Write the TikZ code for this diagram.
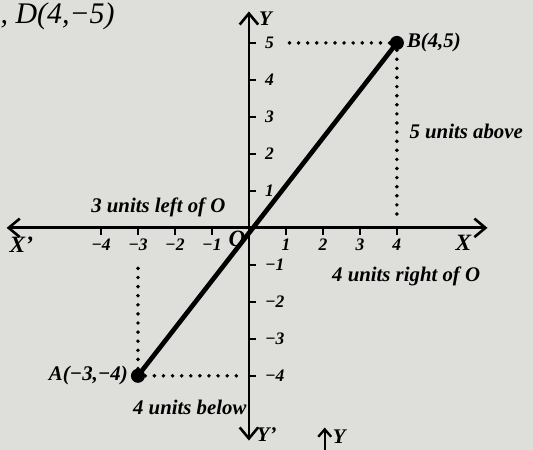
\documentclass[tikz,border=0pt]{standalone}
\usepackage{fontspec}
\setmainfont{Liberation Serif}
\usetikzlibrary{arrows.meta, positioning}
\definecolor{paper}{RGB}{222,222,218}
\tikzset{
  axis/.style={{Straight Barb[length=3mm, width=5mm, line width=2pt]}-{Straight Barb[length=3mm, width=5mm, line width=2pt]}, line width=2.2pt},
  guide/.style={dash pattern=on 0pt off 7pt, line cap=round, line width=3pt},
  seg/.style={line width=3.6pt},
  lbl/.style={font=\bfseries\itshape\fontsize{16}{18}\selectfont, inner sep=1pt},
  num/.style={font=\bfseries\itshape\fontsize{13.5}{15}\selectfont, inner sep=1pt},
  pt/.style={circle, fill=black, inner sep=0pt, minimum size=3.8mm},
}
\begin{document}
\begin{tikzpicture}
  \fill[paper] (-6.73,-6.0) rectangle (7.68,6.16);
  \useasboundingbox (-6.73,-6.0) rectangle (7.68,6.16);
  % axes
  \coordinate (xl) at (-6.55,0);
  \coordinate (xr) at (6.45,0);
  \coordinate (yt) at (0,5.85);
  \coordinate (yb) at (0,-5.75);
  \draw[axis] (xl) -- (xr);
  \draw[axis] (yb) -- (yt);
  \node[lbl, font=\bfseries\itshape\fontsize{18}{20}\selectfont] (Xp) at (-6.15,-0.45) {X'};
  \node[lbl, font=\bfseries\itshape\fontsize{18}{20}\selectfont] (X) at (5.8,-0.4) {X};
  \node[lbl, font=\bfseries\itshape\fontsize{16}{18}\selectfont] (Y) at (0.45,5.65) {Y};
  \node[lbl, font=\bfseries\itshape\fontsize{16}{18}\selectfont] (Yp) at (0.48,-5.6) {Y'};
  \node[lbl, font=\bfseries\itshape\fontsize{18}{20}\selectfont] (O) at (-0.32,-0.3) {O};
  % ticks
  \foreach \x/\t in {-4/−4,-3/−3,-2/−2,-1/−1,1/1,2/2,3/3,4/4}
    \draw[line width=1.4pt] (\x,0) -- (\x,-0.18) node[num, below=2pt] {\t};
  \foreach \y/\t in {5/5,4/4,3/3,2/2,1/1,-1/−1,-2/−2,-3/−3,-4/−4}
    \draw[line width=1.4pt] (0,\y) -- (0.2,\y) node[num, right=5pt] {\t};
  % points
  \node[pt] (B) at (4,5) {};
  \node[pt] (A) at (-3,-4) {};
  \node[lbl, right=1pt of B] (Blbl) {B(4,5)};
  \node[lbl, left=1pt of A] (Albl) {A(−3,−4)};
  \draw[seg] (A.center) -- (B.center);
  % guides
  \coordinate (By) at (1.05,5);
  \coordinate (Bx) at (4,0.3);
  \coordinate (Ax) at (-3,-0.95);
  \coordinate (Ay) at (-0.3,-4);
  \draw[guide] (B) -- (By);
  \draw[guide] (B) -- (Bx);
  \draw[guide] (A) -- (Ax);
  \draw[guide] (A) -- (Ay);
  % notes
  \node[lbl] (left) at (-2.45,0.55) {3 units left of O};
  \node[lbl] (right) at (4.25,-1.3) {4 units right of O};
  \node[lbl, anchor=west] (above) at (4.3,2.6) {5 units above};
  \node[lbl] (below) at (-1.6,-4.85) {4 units below};
  % stray text of the page
  \node[font=\itshape\fontsize{23}{25}\selectfont, anchor=west, inner sep=0pt] (D) at (-6.72,5.72) {, D(4,−5)};
  \coordinate (ya) at (2.05,-6.0);
  \coordinate (yz) at (2.05,-5.4);
  \draw[line width=1.8pt, -{Straight Barb[length=2mm, width=3.5mm]}] (ya) -- (yz);
  \node[lbl, right=5pt of yz, yshift=-7pt] (Y2) {Y};
\end{tikzpicture}
\end{document}
